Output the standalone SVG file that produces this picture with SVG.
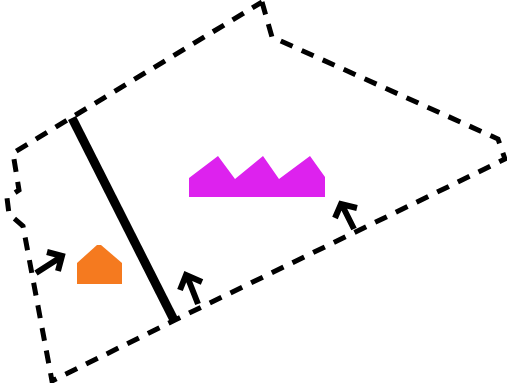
<svg xmlns="http://www.w3.org/2000/svg" width="507" height="383" viewBox="0 0 507 383">
<style>
.dash{fill:none;stroke:#000;stroke-width:5;stroke-dasharray:13 10;stroke-linejoin:miter}
.wall{stroke:#000;stroke-width:9;stroke-linecap:butt}
.arr{fill:none;stroke:#000;stroke-width:6;stroke-linecap:butt;stroke-linejoin:miter}
</style>
<rect width="507" height="383" fill="#fff"/>
<g id="boundary">
<path class="dash" d="M262,2 L272,37 L498,139 L505,159 L175,320 L52,381 L23,226 L9,214 L7,198 L19,190 L13,153 L262,2"/>
</g>
<g id="divider">
<line class="wall" x1="72" y1="118" x2="174" y2="320"/>
</g>
<g id="magenta-shape">
<polygon fill="#DD22EE" points="189,197 189,178 218,156 235,179 263,156 279,179 310,156 325,177 325,197"/>
</g>
<g id="orange-shape">
<polygon fill="#F57A1F" points="77,284 77,263 97,245 101,245 122,263 122,284"/>
</g>
<g id="connectors">
<path class="arr" d="M36,273 L61,257 M47,252 L62,256 L58,271"/>
<path class="arr" d="M198,304 L187,276 M180,290 L186,275 L202,282"/>
<path class="arr" d="M354,229 L342,205 M335,218 L341,204 L357,208"/>
</g>
</svg>
